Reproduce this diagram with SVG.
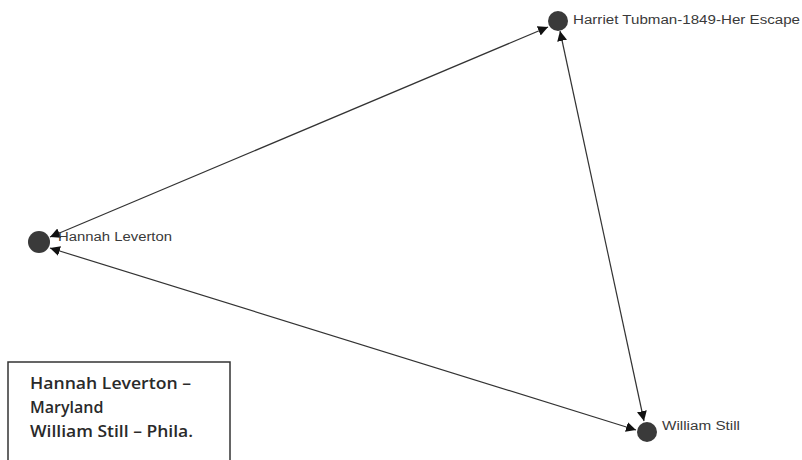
<svg xmlns="http://www.w3.org/2000/svg" width="802" height="460" viewBox="0 0 802 460">
<style>
.node{fill:#3a3a3a}
.edge{stroke:#333;stroke-width:1.2;fill:none;marker-start:url(#ah);marker-end:url(#ah)}
.lbl{font-family:"Liberation Sans",Arial,sans-serif;font-size:12.5px;fill:#3a3a3a}
.box{fill:#fff;stroke:#333;stroke-width:1.5}
.btxt{font-family:"Open Sans","Liberation Sans",sans-serif;font-size:16px;font-weight:600;fill:#2a2a2a}
</style>
<defs>
<marker id="ah" viewBox="0 0 10 10" refX="10" refY="5" markerWidth="10" markerHeight="10" markerUnits="userSpaceOnUse" orient="auto-start-reverse">
<path d="M0,0 L10,5 L0,10 z" fill="#111"/>
</marker>
</defs>
<rect width="802" height="460" fill="#fff"/>
<g id="connectors">
<line class="edge" x1="50" y1="237" x2="548" y2="27"/>
<line class="edge" x1="50" y1="248" x2="636" y2="430"/>
<line class="edge" x1="560" y1="31" x2="644" y2="421"/>
</g>
<g id="harriet">
<circle class="node" cx="558" cy="21" r="10"/>
<text class="lbl" x="573" y="24" textLength="227" lengthAdjust="spacingAndGlyphs">Harriet Tubman-1849-Her Escape</text>
</g>
<g id="hannah">
<circle class="node" cx="39" cy="242" r="11"/>
<text class="lbl" x="58" y="241" textLength="114" lengthAdjust="spacingAndGlyphs">Hannah Leverton</text>
</g>
<g id="william">
<circle class="node" cx="647" cy="432" r="10"/>
<text class="lbl" x="662" y="430" textLength="78" lengthAdjust="spacingAndGlyphs">William Still</text>
</g>
<g id="legend">
<rect class="box" x="8" y="362" width="222" height="110"/>
<text class="btxt" x="30" y="389" textLength="161" lengthAdjust="spacingAndGlyphs">Hannah Leverton –</text>
<text class="btxt" x="30" y="413">Maryland</text>
<text class="btxt" x="30" y="437" textLength="163" lengthAdjust="spacingAndGlyphs">William Still – Phila.</text>
</g>
</svg>
